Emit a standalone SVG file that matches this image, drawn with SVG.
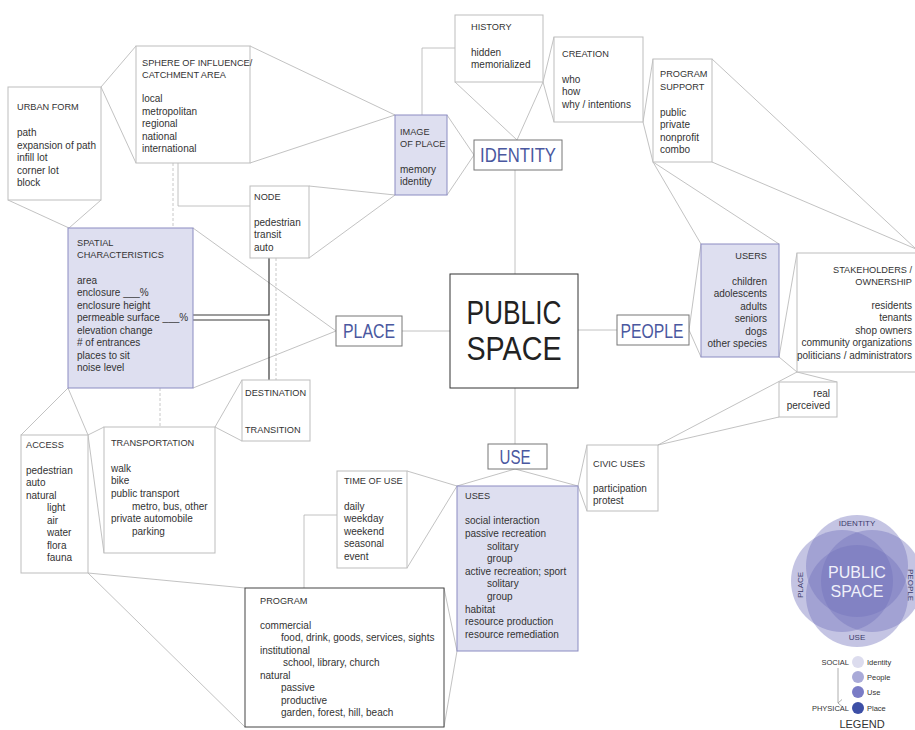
<svg xmlns="http://www.w3.org/2000/svg" width="915" height="730" viewBox="0 0 915 730">
<defs>
<style>
text{font-family:"Liberation Sans",Arial,sans-serif;font-size:10px;fill:#333}
.h{font-size:9.2px}
.box{fill:#fff;stroke:#bdbdbd;stroke-width:1}
.lav{fill:#dedff0;stroke:#8b8cc2;stroke-width:1}
.dark{fill:#fff;stroke:#444;stroke-width:1}
.key{fill:#fff;stroke:#777;stroke-width:1}
.big{font-size:20px;fill:#4a58a0;text-anchor:middle}
.c{fill:none;stroke:#b3b3b3;stroke-width:0.8}
.cd{fill:none;stroke:#3a3a3a;stroke-width:1.2}
.dash{fill:none;stroke:#c8c8c8;stroke-width:1;stroke-dasharray:3 2}
.r{text-anchor:end}
.venn{fill:#7373bc;fill-opacity:0.42}
.vl{font-size:8px;fill:#3c3c6c;text-anchor:middle}
.lg{font-size:7.5px;fill:#333}
</style>
<marker id="arr" markerWidth="8" markerHeight="8" refX="4" refY="7" orient="auto" markerUnits="userSpaceOnUse">
<path d="M0.5,3 L4,7 L7.5,3" fill="none" stroke="#999" stroke-width="0.8"/>
</marker>
</defs>
<rect width="915" height="730" fill="#fff"/>

<g id="connectors">
<path class="c" d="M8,200 L69,228 M101,200 L69,228"/>
<path class="c" d="M101,87 L136,46 M101,87 L136,163"/>
<path class="c" d="M250,46 L395,115 M250,163 L395,115"/>
<path class="c" d="M178,163 L178,206 L250,206"/>
<path class="c" d="M309,186 L395,195 M309,258 L395,195"/>
<path class="c" d="M422,115 L422,48 L455,48"/>
<path class="c" d="M447,115 L474,155 M447,195 L474,155"/>
<path class="c" d="M455,82 L517,140 M543,82 L517,140"/>
<path class="c" d="M543,82 L554,37 M543,82 L554,122"/>
<path class="c" d="M643,122 L653,59 M643,122 L653,162"/>
<path class="c" d="M653,162 L701,244 M653,162 L779,244"/>
<path class="c" d="M712,59 L916,249 M712,162 L916,249"/>
<path class="c" d="M515,170 L515,274"/>
<path class="c" d="M402,331 L450,331"/>
<path class="c" d="M578,330 L617,330"/>
<path class="c" d="M515,388 L515,444"/>
<path class="c" d="M689,330 L701,244 M689,330 L701,357"/>
<path class="c" d="M779,357 L797,253 M779,357 L797,372 L837,382"/>
<path class="c" d="M658,445 L797,372 M658,445 L779,417"/>
<path class="c" d="M193,228 L336,331 M193,388 L336,331"/>
<path class="cd" d="M193,315 L269,315 L269,258 M193,320 L269,320 L269,380"/>
<path class="dash" d="M276,258 L276,380 M173,163 L173,228 M160,388 L160,427"/>
<path class="c" d="M68,388 L21,435 M68,388 L88,435"/>
<path class="c" d="M88,435 L104,427 M88,435 L104,553"/>
<path class="c" d="M215,427 L242,380 M215,427 L242,441"/>
<path class="c" d="M88,573 L245,588 M88,573 L245,727"/>
<path class="c" d="M304,588 L304,515 L337,515"/>
<path class="c" d="M407,471 L457,486 M407,568 L457,486"/>
<path class="c" d="M515,469 L457,486 M515,469 L578,486"/>
<path class="c" d="M444,588 L457,651 M444,727 L457,651"/>
<path class="c" d="M578,486 L587,445 M578,486 L587,511"/>
</g>

<g id="urban-form">
<rect class="box" x="8" y="87" width="93" height="113"/>
<text class="h" x="17" y="110">URBAN FORM</text>
<text x="17" y="136">path</text>
<text x="17" y="148.5">expansion of path</text>
<text x="17" y="161">infill lot</text>
<text x="17" y="173.5">corner lot</text>
<text x="17" y="186">block</text>
</g>

<g id="sphere">
<rect class="box" x="136" y="46" width="114" height="117"/>
<text class="h" x="142" y="65.5">SPHERE OF INFLUENCE/</text>
<text class="h" x="142" y="77.5">CATCHMENT AREA</text>
<text x="142" y="102">local</text>
<text x="142" y="114.5">metropolitan</text>
<text x="142" y="127">regional</text>
<text x="142" y="139.5">national</text>
<text x="142" y="152">international</text>
</g>

<g id="image-of-place">
<rect class="lav" x="395" y="115" width="52" height="80"/>
<text class="h" x="400" y="134.5">IMAGE</text>
<text class="h" x="400" y="146.5">OF PLACE</text>
<text x="400" y="172.5">memory</text>
<text x="400" y="185">identity</text>
</g>

<g id="history">
<rect class="box" x="455" y="15" width="88" height="67"/>
<text class="h" x="471" y="29.5">HISTORY</text>
<text x="471" y="55.5">hidden</text>
<text x="471" y="67.5">memorialized</text>
</g>

<g id="creation">
<rect class="box" x="554" y="37" width="89" height="85"/>
<text class="h" x="562" y="57">CREATION</text>
<text x="562" y="82.5">who</text>
<text x="562" y="95">how</text>
<text x="562" y="107.5">why / intentions</text>
</g>

<g id="program-support">
<rect class="box" x="653" y="59" width="59" height="103"/>
<text class="h" x="660" y="77">PROGRAM</text>
<text class="h" x="660" y="89.5">SUPPORT</text>
<text x="660" y="115.5">public</text>
<text x="660" y="128">private</text>
<text x="660" y="140.5">nonprofit</text>
<text x="660" y="153">combo</text>
</g>

<g id="identity">
<rect class="key" x="474" y="140" width="88" height="30"/>
<text class="big" x="518" y="162" textLength="76" lengthAdjust="spacingAndGlyphs">IDENTITY</text>
</g>

<g id="node">
<rect class="box" x="250" y="186" width="59" height="72"/>
<text class="h" x="254" y="199.5">NODE</text>
<text x="254" y="225.5">pedestrian</text>
<text x="254" y="238">transit</text>
<text x="254" y="250.5">auto</text>
</g>

<g id="spatial">
<rect class="lav" x="68" y="228" width="125" height="160"/>
<text class="h" x="77" y="245.5">SPATIAL</text>
<text class="h" x="77" y="258">CHARACTERISTICS</text>
<text x="77" y="283.5">area</text>
<text x="77" y="296">enclosure ___%</text>
<text x="77" y="308.5">enclosure height</text>
<text x="77" y="321">permeable surface ___%</text>
<text x="77" y="333.5">elevation change</text>
<text x="77" y="346"># of entrances</text>
<text x="77" y="358.5">places  to sit</text>
<text x="77" y="371">noise level</text>
</g>

<g id="place">
<rect class="key" x="336" y="316" width="66" height="30"/>
<text class="big" x="369" y="338" textLength="52" lengthAdjust="spacingAndGlyphs">PLACE</text>
</g>

<g id="public-space">
<rect fill="#fff" stroke="#333" stroke-width="1" x="450" y="274" width="128" height="114"/>
<text x="514" y="324" text-anchor="middle" style="font-size:34px;fill:#222" textLength="95" lengthAdjust="spacingAndGlyphs">PUBLIC</text>
<text x="514" y="360" text-anchor="middle" style="font-size:34px;fill:#222" textLength="95" lengthAdjust="spacingAndGlyphs">SPACE</text>
</g>

<g id="people">
<rect class="key" x="617" y="315" width="72" height="30"/>
<text class="big" x="652" y="337.5" textLength="63" lengthAdjust="spacingAndGlyphs">PEOPLE</text>
</g>

<g id="users">
<rect class="lav" x="701" y="244" width="78" height="113"/>
<text class="r h" x="767" y="258.5">USERS</text>
<text class="r" x="767" y="284.5">children</text>
<text class="r" x="767" y="297">adolescents</text>
<text class="r" x="767" y="309.5">adults</text>
<text class="r" x="767" y="322">seniors</text>
<text class="r" x="767" y="334.5">dogs</text>
<text class="r" x="767" y="347">other species</text>
</g>

<g id="stakeholders">
<rect class="box" x="797" y="253" width="140" height="119"/>
<text class="r h" x="912" y="272.5">STAKEHOLDERS /</text>
<text class="r h" x="912" y="284.5">OWNERSHIP</text>
<text class="r" x="912" y="308.5">residents</text>
<text class="r" x="912" y="321">tenants</text>
<text class="r" x="912" y="333.5">shop owners</text>
<text class="r" x="912" y="346">community organizations</text>
<text class="r" x="912" y="358.5">politicians / administrators</text>
</g>

<g id="real-perceived">
<rect class="box" x="779" y="382" width="58" height="35"/>
<text class="r" x="830" y="396.5">real</text>
<text class="r" x="830" y="408.5">perceived</text>
</g>

<g id="destination">
<rect class="box" x="242" y="380" width="68" height="61"/>
<text class="h" x="245" y="395.5">DESTINATION</text>
<text class="h" x="245" y="432.5">TRANSITION</text>
</g>

<g id="access">
<rect class="box" x="21" y="435" width="67" height="138"/>
<text class="h" x="26" y="447.5">ACCESS</text>
<text x="26" y="473.5">pedestrian</text>
<text x="26" y="486">auto</text>
<text x="26" y="498.5">natural</text>
<text x="47" y="511">light</text>
<text x="47" y="523.5">air</text>
<text x="47" y="536">water</text>
<text x="47" y="548.5">flora</text>
<text x="47" y="561">fauna</text>
</g>

<g id="transportation">
<rect class="box" x="104" y="427" width="111" height="126"/>
<text class="h" x="111" y="446">TRANSPORTATION</text>
<text x="111" y="471.5">walk</text>
<text x="111" y="484">bike</text>
<text x="111" y="497">public transport</text>
<text x="132" y="509.5">metro, bus, other</text>
<text x="111" y="522">private automobile</text>
<text x="132" y="534.5">parking</text>
</g>

<g id="time-of-use">
<rect class="box" x="337" y="471" width="70" height="97"/>
<text class="h" x="344" y="484">TIME OF USE</text>
<text x="344" y="509.5">daily</text>
<text x="344" y="522">weekday</text>
<text x="344" y="534.5">weekend</text>
<text x="344" y="547">seasonal</text>
<text x="344" y="559.5">event</text>
</g>

<g id="program">
<rect class="dark" x="245" y="588" width="199" height="139"/>
<text class="h" x="260" y="603.5">PROGRAM</text>
<text x="260" y="628.5">commercial</text>
<text x="281" y="641">food, drink, goods, services, sights</text>
<text x="260" y="653.5">institutional</text>
<text x="283" y="666">school, library, church</text>
<text x="260" y="678.5">natural</text>
<text x="281" y="691">passive</text>
<text x="281" y="703.5">productive</text>
<text x="281" y="716">garden, forest, hill, beach</text>
</g>

<g id="use">
<rect class="key" x="488" y="444" width="59" height="25"/>
<text class="big" x="515" y="464" textLength="31" lengthAdjust="spacingAndGlyphs">USE</text>
</g>

<g id="uses">
<rect class="lav" x="457" y="486" width="121" height="165"/>
<text class="h" x="465" y="498.5">USES</text>
<text x="465" y="524">social interaction</text>
<text x="465" y="536.5">passive recreation</text>
<text x="487" y="549.5">solitary</text>
<text x="487" y="562">group</text>
<text x="465" y="574.5">active recreation; sport</text>
<text x="487" y="587">solitary</text>
<text x="487" y="599.5">group</text>
<text x="465" y="612.5">habitat</text>
<text x="465" y="625">resource production</text>
<text x="465" y="637.5">resource remediation</text>
</g>

<g id="civic-uses">
<rect class="box" x="587" y="445" width="71" height="66"/>
<text class="h" x="593" y="466.5">CIVIC USES</text>
<text x="593" y="491.5">participation</text>
<text x="593" y="504">protest</text>
</g>

<g id="legend">
<circle class="venn" cx="857" cy="566" r="51"/>
<circle class="venn" cx="842" cy="581" r="51"/>
<circle class="venn" cx="872" cy="581" r="51"/>
<circle class="venn" cx="857" cy="596" r="51"/>
<text class="vl" x="857" y="526">IDENTITY</text>
<text class="vl" x="857" y="640">USE</text>
<text class="vl" transform="translate(803,585) rotate(-90)" x="0" y="0">PLACE</text>
<text class="vl" transform="translate(908,585) rotate(90)" x="0" y="0">PEOPLE</text>
<text x="857" y="578" style="font-size:16px;fill:#f0f0fa;text-anchor:middle">PUBLIC</text>
<text x="857" y="597" style="font-size:16px;fill:#f0f0fa;text-anchor:middle">SPACE</text>
<text class="lg r" x="849" y="664.5">SOCIAL</text>
<text class="lg r" x="849" y="710.5">PHYSICAL</text>
<path d="M838,668 L838,703" stroke="#999" stroke-width="0.8" fill="none" marker-end="url(#arr)"/>
<circle cx="858" cy="662" r="6" fill="#dcdcee"/>
<circle cx="858" cy="677" r="6" fill="#a9aad8"/>
<circle cx="858" cy="692" r="6" fill="#7a7cc6"/>
<circle cx="858" cy="708" r="6" fill="#3d4fa6"/>
<text class="lg" x="867" y="664.5">Identity</text>
<text class="lg" x="867" y="679.5">People</text>
<text class="lg" x="867" y="694.5">Use</text>
<text class="lg" x="867" y="710.5">Place</text>
<text x="862" y="728" style="font-size:11px;fill:#333;text-anchor:middle">LEGEND</text>
</g>
</svg>
